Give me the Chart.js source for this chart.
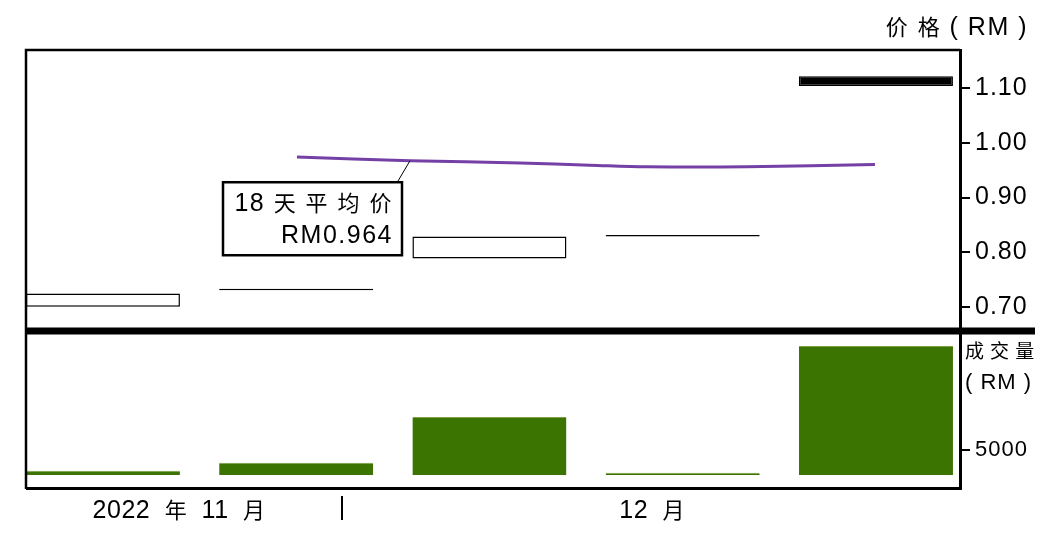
<!DOCTYPE html>
<html>
<head>
<meta charset="utf-8">
<script src="https://cdn.jsdelivr.net/npm/chart.js@4.4.1/dist/chart.umd.min.js"></script>
<style>
  html, body { margin: 0; padding: 0; background: #fff; }
</style>
</head>
<body>
<canvas id="stockChart" width="1052" height="542"></canvas>
<script>
// data
const periods = [0, 1, 2, 3, 4];
const priceLow = [0.701, 0.731, 0.789, 0.829, 1.103];
const priceHigh = [0.725, 0.731, 0.829, 0.829, 1.121];
const volume = [860, 2460, 11600, 460, 25800];
const maX = [1.004, 1.589, 2.158, 2.52, 2.815, 3.332, 3.995];
const maValue = [0.974, 0.967, 0.963, 0.959, 0.956, 0.956, 0.960];
const priceTicks = [0.70, 0.80, 0.90, 1.00, 1.10];
const volumeTicks = [5000];
const monthLabels = ['2022 年 11 月', '12 月'];
const monthAt = [0.394, 2.842];
const monthBreak = 1.237;
const maLabel = ['18 天 平 均 价', 'RM0.964'];

const bodyFill = ['#fff', '#fff', '#fff', '#fff', '#000'];
const LATIN = '"Liberation Sans", Arial, sans-serif';
const CJK = '"Noto Sans CJK SC", sans-serif';

// latin and CJK glyphs are set in different sizes in the original
function drawMixed(ctx, text, x, y, align, latinSize, cjkSize) {
  const re = /[\u3400-\u9fff]/;
  const runs = text.match(/[\u3400-\u9fff]+|[^\u3400-\u9fff]+/g);
  const fontFor = r => re.test(r) ? cjkSize + 'px ' + CJK : latinSize + 'px ' + LATIN;
  let total = 0;
  const widths = runs.map(r => {
    ctx.font = fontFor(r);
    const w = ctx.measureText(r).width;
    total += w;
    return w;
  });
  let cx = align === 'right' ? x - total : align === 'center' ? x - total / 2 : x;
  ctx.textAlign = 'left';
  runs.forEach((r, i) => {
    ctx.font = fontFor(r);
    ctx.fillText(r, cx, y);
    cx += widths[i];
  });
}

const frame = {
  id: 'frame',
  beforeDraw(chart) {
    chart.ctx.letterSpacing = '1px';
  },
  afterDraw(chart) {
    const { ctx, chartArea: a, scales } = chart;
    const x = scales.x, yp = scales.yPrice;
    ctx.save();
    ctx.strokeStyle = '#000';
    ctx.fillStyle = '#000';

    // frame top / left / bottom
    ctx.lineWidth = 2.5;
    ctx.beginPath();
    ctx.moveTo(a.right, a.top);
    ctx.lineTo(a.left, a.top);
    ctx.lineTo(a.left, a.bottom);
    ctx.stroke();
    ctx.lineWidth = 3;
    ctx.beginPath();
    ctx.moveTo(a.left, a.bottom - 0.5);
    ctx.lineTo(a.right, a.bottom - 0.5);
    ctx.stroke();

    // thick separator between panels
    ctx.lineWidth = 7;
    ctx.beginPath();
    ctx.moveTo(a.left, yp.bottom + 1);
    ctx.lineTo(1035, yp.bottom + 1);
    ctx.stroke();

    // axis titles
    ctx.textBaseline = 'alphabetic';
    ctx.letterSpacing = '1.5px';
    drawMixed(ctx, '价 格 ( RM )', 1028, 35, 'right', 25, 22);
    ctx.letterSpacing = '0px';
    drawMixed(ctx, '成 交 量', 965, 358, 'left', 22, 19);
    ctx.letterSpacing = '1px';
    drawMixed(ctx, '( RM )', 965, 389, 'left', 22, 19);

    // month labels under the panels
    ctx.letterSpacing = '0.5px';
    ctx.wordSpacing = '7px';
    monthLabels.forEach((t, i) => {
      drawMixed(ctx, t, x.getPixelForValue(monthAt[i]), 518, 'center', 25, 22);
    });
    ctx.wordSpacing = '0px';
    ctx.lineWidth = 2;
    const bx = Math.round(x.getPixelForValue(monthBreak));
    ctx.beginPath();
    ctx.moveTo(bx, 496);
    ctx.lineTo(bx, 520);
    ctx.stroke();

    // moving average callout
    const ax = x.getPixelForValue(maX[1]);
    const ay = yp.getPixelForValue(maValue[1]);
    ctx.lineWidth = 1;
    ctx.beginPath();
    ctx.moveTo(ax - 13, ay + 22);
    ctx.lineTo(ax, ay);
    ctx.stroke();
    ctx.fillStyle = '#fff';
    ctx.fillRect(ax - 187, ay + 21.5, 179, 73);
    ctx.lineWidth = 2.5;
    ctx.strokeRect(ax - 187, ay + 21.5, 179, 73);
    ctx.fillStyle = '#000';
    ctx.letterSpacing = '1.5px';
    drawMixed(ctx, maLabel[0], ax - 17, ay + 50.5, 'right', 25, 22);
    drawMixed(ctx, maLabel[1], ax - 17, ay + 82.5, 'right', 25, 22);
    ctx.restore();
  }
};

const ctx = document.getElementById('stockChart');

new Chart(ctx, {
  type: 'bar',
  data: {
    datasets: [
      {
        type: 'line',
        data: maX.map((v, i) => ({ x: v, y: maValue[i] })),
        yAxisID: 'yPrice',
        borderColor: '#7440a6',
        borderWidth: 3,
        pointRadius: 0,
        tension: 0.35
      },
      {
        data: periods.map((v, i) => ({ x: v, y: [priceLow[i], priceHigh[i]] })),
        yAxisID: 'yPrice',
        backgroundColor: bodyFill,
        borderColor: '#000',
        borderWidth: 1.5,
        borderSkipped: false,
        minBarLength: 1.5,
        grouped: false,
        categoryPercentage: 1,
        barPercentage: 0.797
      },
      {
        data: periods.map((v, i) => ({ x: v, y: volume[i] })),
        yAxisID: 'yVol',
        backgroundColor: '#3b7400',
        borderColor: '#7fa247',
        borderWidth: { top: 1, bottom: 0, left: 0, right: 0 },
        borderSkipped: false,
        grouped: false,
        categoryPercentage: 1,
        barPercentage: 0.797
      }
    ]
  },
  options: {
    responsive: false,
    animation: false,
    layout: { padding: { left: 26, top: 50, bottom: 53, right: 0 } },
    plugins: {
      legend: { display: false },
      tooltip: { enabled: false }
    },
    scales: {
      x: {
        type: 'linear',
        offset: false,
        min: -0.398,
        max: 4.435,
        display: false,
        afterBuildTicks: s => { s.ticks = periods.map(v => ({ value: v })); }
      },
      yPrice: {
        type: 'linear',
        position: 'right',
        stack: 'panels',
        stackWeight: 280,
        min: 0.6587,
        max: 1.1687,
        afterBuildTicks: s => { s.ticks = priceTicks.map(v => ({ value: v })); },
        afterFit: s => { s.width = 92; },
        grid: { drawOnChartArea: false, color: '#000', lineWidth: 2, tickLength: 10 },
        border: { color: '#000', width: 3 },
        ticks: {
          color: '#000',
          padding: 5,
          font: { family: LATIN, size: 25 },
          callback: v => v.toFixed(2)
        }
      },
      yVol: {
        type: 'linear',
        position: 'right',
        stack: 'panels',
        stackWeight: 159,
        min: -2800,
        max: 29000,
        afterBuildTicks: s => { s.ticks = volumeTicks.map(v => ({ value: v })); },
        afterFit: s => { s.width = 92; },
        grid: { drawOnChartArea: false, color: '#000', lineWidth: 2, tickLength: 10 },
        border: { color: '#000', width: 3 },
        ticks: {
          color: '#000',
          padding: 5,
          font: { family: LATIN, size: 22 },
          callback: v => String(v)
        }
      }
    }
  },
  plugins: [frame]
});
</script>
</body>
</html>
